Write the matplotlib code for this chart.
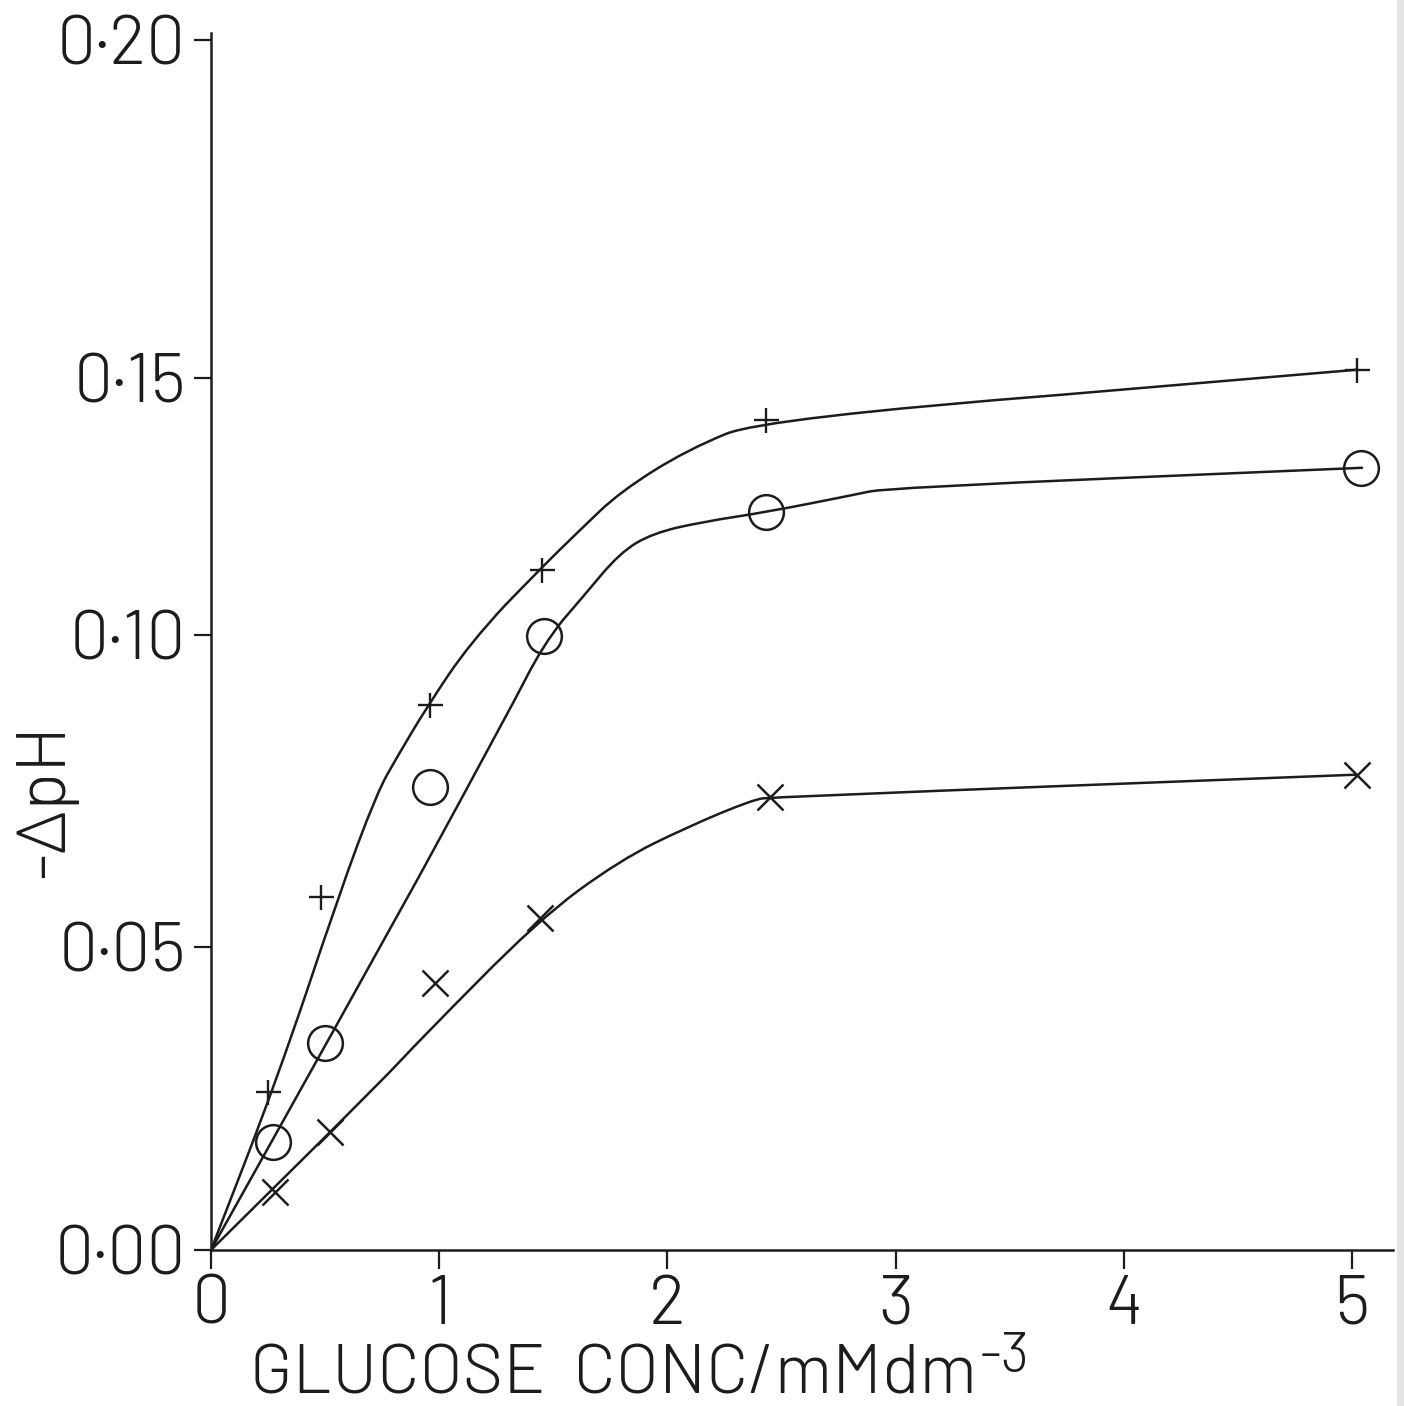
import numpy as np
import matplotlib
matplotlib.use("Agg")
import matplotlib.pyplot as plt
from matplotlib import font_manager
from matplotlib.patches import Rectangle, PathPatch
from matplotlib.path import Path

# ---- measured points: glucose concentration (mM dm^-3) vs -dpH ----
conc_plus = [0.25, 0.48, 0.96, 1.45, 2.43, 5.02]
dph_plus = [0.0261, 0.0580, 0.0888, 0.1126, 0.1418, 0.1512]

conc_circle = [0.27, 0.50, 0.96, 1.46, 2.43, 5.04]
dph_circle = [0.0178, 0.0342, 0.0756, 0.0998, 0.1239, 0.1325]

conc_cross = [0.28, 0.52, 0.98, 1.44, 2.45, 5.02]
dph_cross = [0.0096, 0.0195, 0.0441, 0.0546, 0.0740, 0.0776]

# ---- hand-fitted curves through each set ----
fit_plus_x = [0, 0.289, 0.557, 0.727, 0.815, 0.947, 1.135, 1.442, 1.617, 1.792, 2.086, 2.428, 5.022]
fit_plus_y = [0, 0.0281, 0.0580, 0.0747, 0.0804, 0.0885, 0.0987, 0.1128, 0.1204, 0.1278, 0.1360, 0.1422, 0.1512]

fit_circle_x = [0, 0.508, 1.310, 1.455, 1.630, 1.792, 1.937, 2.156, 2.436, 2.813, 2.962, 5.044]
fit_circle_y = [0, 0.0342, 0.0880, 0.0984, 0.1074, 0.1160, 0.1198, 0.1220, 0.1239, 0.1272, 0.1286, 0.1325]

fit_cross_x = [0, 0.754, 0.916, 1.433, 1.792, 2.086, 2.375, 2.458, 5.018]
fit_cross_y = [0, 0.0281, 0.0347, 0.0543, 0.0639, 0.0692, 0.0736, 0.0740, 0.0776]

# ---- axis ticks ----
x_ticks = [0, 1, 2, 3, 4, 5]
x_tick_labels = ["0", "1", "2", "3", "4", "5"]
y_ticks = [0.00, 0.05, 0.10, 0.15, 0.20]
y_tick_labels = ["0·00", "0·05", "0·10", "0·15", "0·20"]

x_label = "GLUCOSE  CONC/mMdm"
x_label_sup = "-3"
y_label = "-ΔpH"

# ---- lettering font ----
available = {f.name for f in font_manager.fontManager.ttflist}
family = "DejaVu Sans"
for cand in ["Barlow", "Barlow Semi Condensed", "Roboto", "Lato"]:
    if cand in available:
        family = cand
        break
plt.rcParams["font.family"] = [family, "DejaVu Sans"]
plt.rcParams["font.weight"] = 300

INK = "#1c1c1c"

# The vertical scale follows the spacing of the ruled ticks on the sheet
# (unequal gaps between 0.00, 0.05, 0.10, 0.15, 0.20).
_tick_v = np.array([0.00, 0.05, 0.10, 0.15, 0.20])
_tick_p = np.array([0.0, 303.0, 615.0, 872.0, 1210.0])


def _piecewise(v, xs, ys):
    v = np.asarray(v, dtype=float)
    out = np.interp(v, xs, ys)
    lo_slope = (ys[1] - ys[0]) / (xs[1] - xs[0])
    hi_slope = (ys[-1] - ys[-2]) / (xs[-1] - xs[-2])
    out = np.where(v < xs[0], ys[0] + (v - xs[0]) * lo_slope, out)
    out = np.where(v > xs[-1], ys[-1] + (v - xs[-1]) * hi_slope, out)
    return out


def _fwd(v):
    return _piecewise(v, _tick_v, _tick_p)


def _inv(p):
    return _piecewise(p, _tick_p, _tick_v)


def smooth_curve(ax, xs, ys, **kw):
    """Draw a pen-like curve through the knots: straight ends, rounded bends."""
    pts = np.column_stack([xs, ys]).astype(float)
    verts = [pts[0], (pts[0] + pts[1]) / 2]
    codes = [Path.MOVETO, Path.LINETO]
    for i in range(1, len(pts) - 1):
        verts += [pts[i], (pts[i] + pts[i + 1]) / 2]
        codes += [Path.CURVE3, Path.CURVE3]
    verts.append(pts[-1])
    codes.append(Path.LINETO)
    patch = PathPatch(Path(verts, codes), facecolor="none", transform=ax.transData,
                      capstyle="round", joinstyle="round", **kw)
    ax.add_patch(patch)


W, H = 1404, 1406
fig = plt.figure(figsize=(W / 100, H / 100), dpi=100)
fig.patch.set_facecolor("white")

ax_left, ax_right, ax_bottom, ax_top = 211, 1393, 1250, 33
ax = fig.add_axes([ax_left / W, (H - ax_bottom) / H,
                   (ax_right - ax_left) / W, (ax_bottom - ax_top) / H])
ax.set_yscale("function", functions=(_fwd, _inv))
ax.set_xlim(0, (ax_right - ax_left) / 228.2)
ax.set_ylim(0, 0.2010)

lw = 1.8
smooth_curve(ax, fit_plus_x, fit_plus_y, edgecolor=INK, lw=lw)
smooth_curve(ax, fit_circle_x, fit_circle_y, edgecolor=INK, lw=lw)
smooth_curve(ax, fit_cross_x, fit_cross_y, edgecolor=INK, lw=lw)

ax.plot(conc_plus, dph_plus, ls="none", marker="+", ms=18, mew=1.7, color=INK)
ax.plot(conc_circle, dph_circle, ls="none", marker="o", ms=25, mew=1.8, mfc="none", mec=INK)
ax.plot(conc_cross, dph_cross, ls="none", marker="x", ms=19, mew=1.8, color=INK)

for side in ("top", "right"):
    ax.spines[side].set_visible(False)
for side in ("left", "bottom"):
    ax.spines[side].set_color(INK)
    ax.spines[side].set_linewidth(1.8)
ax.set_facecolor("none")

ax.set_xticks(x_ticks)
ax.set_xticklabels(x_tick_labels)
ax.set_yticks(y_ticks)
ax.set_yticklabels(y_tick_labels)
ax.minorticks_off()
ax.tick_params(axis="x", direction="out", length=14, width=1.6, color=INK,
               pad=4, labelsize=50, labelcolor=INK)
ax.tick_params(axis="y", direction="out", length=12, width=1.6, color=INK,
               pad=6, labelsize=50, labelcolor=INK)

# axis titles
t = fig.text(250 / W, 1 - 1394 / H, x_label, fontsize=50, color=INK,
             ha="left", va="baseline")
fig.canvas.draw()
bb = t.get_window_extent()
fig.text((bb.x1 + 3) / W, 1 - 1372 / H, x_label_sup, fontsize=40, color=INK,
         ha="left", va="baseline")
fig.text(46 / W, 1 - 800 / H, y_label, fontsize=50, color=INK, rotation=90,
         ha="center", va="center")

# edge of the sheet on the right
fig.add_artist(Rectangle((1397 / W, 0), 7 / W, 1, transform=fig.transFigure,
                         facecolor="#e4e4e4", edgecolor="none"))

fig.savefig("out.png", dpi=100, facecolor="white")
